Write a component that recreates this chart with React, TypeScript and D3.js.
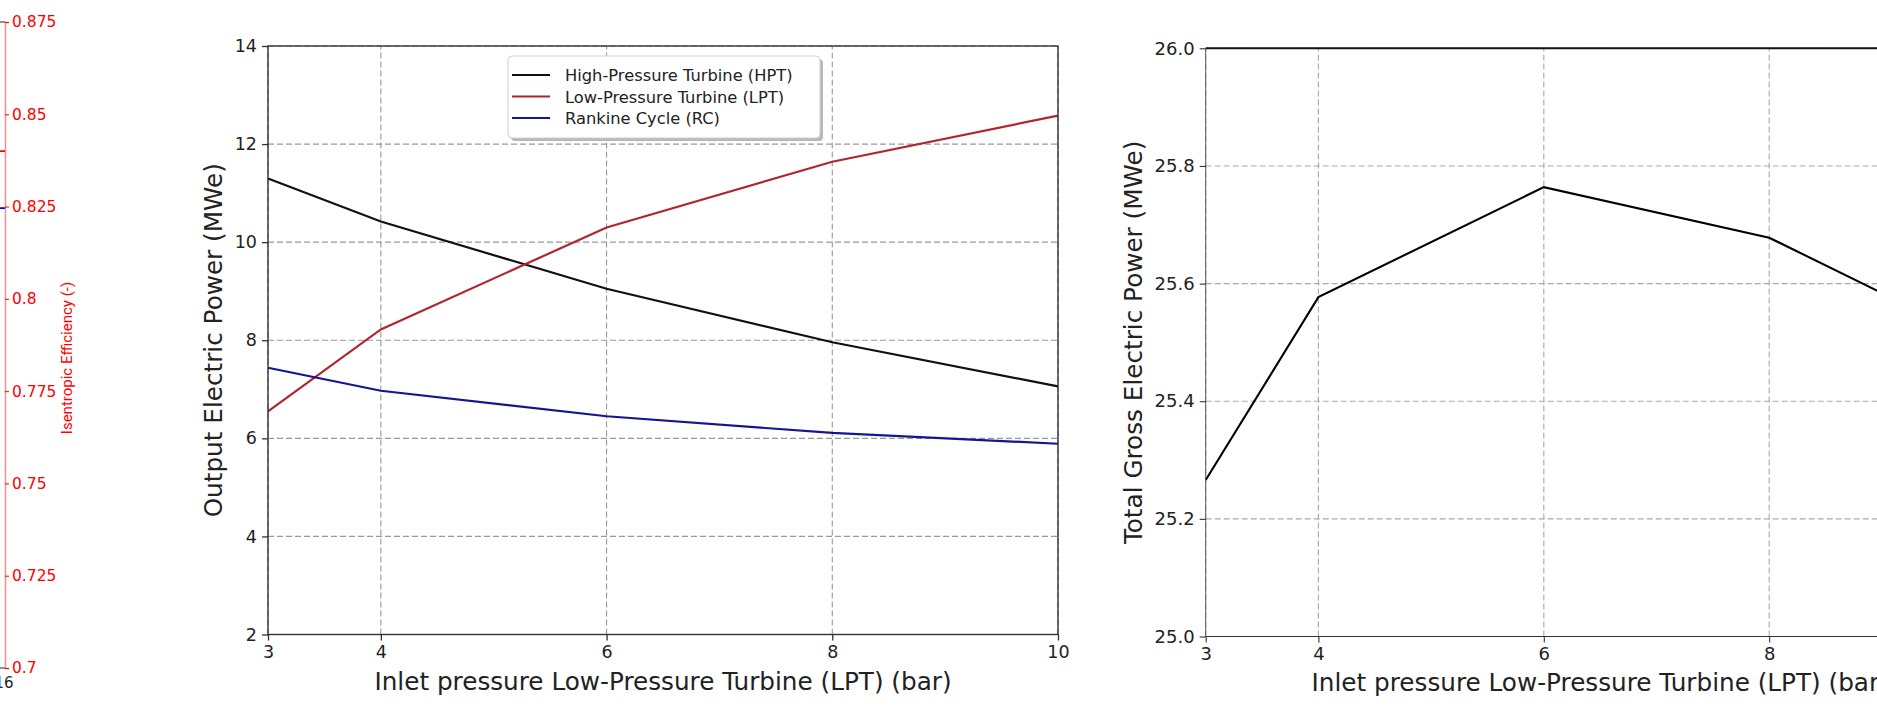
import { useEffect, useRef } from 'react';
import * as d3 from 'd3';

// inlet pressure of the LPT (bar)
const pressure = [3, 4, 6, 8, 10];
const hpt = [11.3, 10.42, 9.05, 7.96, 7.06];
const lpt = [6.55, 8.22, 10.3, 11.64, 12.58];
const rc = [7.44, 6.97, 6.45, 6.11, 5.89];
const totalGross = [25.266, 25.577, 25.764, 25.678, 25.49];

const xTicks = [3, 4, 6, 8, 10];
const midYTicks = [2, 4, 6, 8, 10, 12, 14];
const rightYTicks = [25.0, 25.2, 25.4, 25.6, 25.8, 26.0];

// left panel (only its twin axis is visible)
const effTicks = [0.7, 0.725, 0.75, 0.775, 0.8, 0.825, 0.85, 0.875];
const leftEndX = [15, 16];
const leftRed = [0.84, 0.84];
const leftBlue = [0.8246, 0.8246];

const series = [
  { name: 'High-Pressure Turbine (HPT)', values: hpt, color: '#111111' },
  { name: 'Low-Pressure Turbine (LPT)', values: lpt, color: '#b0262c' },
  { name: 'Rankine Cycle (RC)', values: rc, color: '#15158f' },
];

const FONT = 'DejaVu Sans, sans-serif';

function App() {
  const ref = useRef<SVGSVGElement>(null);

  useEffect(() => {
    const svg = d3.select(ref.current);
    svg.selectAll('*').remove();

    // ---------- left strip ----------
    const effY = d3.scaleLinear().domain([0.7, 0.875]).range([668, 22]);
    const leftX = d3.scaleLinear().domain([15, 16]).range([-120, 5]);
    const strip = svg.append('g');
    const effLine = d3
      .line<number>()
      .x((d, i) => leftX(leftEndX[i]))
      .y((d) => effY(d));
    strip.append('path').attr('d', effLine(leftRed)).attr('stroke', 'red').attr('stroke-width', 1.8).attr('fill', 'none');
    strip.append('path').attr('d', effLine(leftBlue)).attr('stroke', 'blue').attr('stroke-width', 1.8).attr('fill', 'none');
    strip.append('line').attr('x1', -10).attr('x2', 5).attr('y1', 22).attr('y2', 22).attr('stroke', '#444').attr('stroke-width', 1.2);
    strip.append('line').attr('x1', -10).attr('x2', 5).attr('y1', 668).attr('y2', 668).attr('stroke', '#444').attr('stroke-width', 1.2);

    const effAxis = strip
      .append('g')
      .attr('transform', 'translate(5,0)')
      .call(d3.axisRight(effY).tickValues(effTicks).tickSize(4).tickPadding(3).tickFormat((d) => String(+(+d).toFixed(3))));
    effAxis.select('.domain').attr('stroke', 'rgba(255,0,0,0.45)').attr('stroke-width', 1.5);
    effAxis.selectAll('.tick line').attr('stroke', 'red');
    effAxis.selectAll('.tick text').attr('fill', 'red').attr('font-size', 15.5).attr('font-family', FONT);
    strip
      .append('text')
      .attr('transform', 'translate(72,358) rotate(-90)')
      .attr('text-anchor', 'middle')
      .attr('font-size', 15)
      .attr('font-family', 'Roboto, sans-serif')
      .attr('fill', 'red')
      .text('Isentropic Efficiency (-)');
    strip
      .append('text')
      .attr('x', 4)
      .attr('y', 688)
      .attr('text-anchor', 'middle')
      .attr('font-size', 15)
      .attr('font-family', FONT)
      .attr('fill', '#222')
      .text('16');

    // ---------- middle chart ----------
    const x = d3.scaleLinear().domain([3, 10]).range([268, 1058]);
    const y = d3.scaleLinear().domain([2, 14]).range([634.5, 46]);
    const mid = svg.append('g');

    mid.append('g')
      .selectAll('line')
      .data(xTicks)
      .enter()
      .append('line')
      .attr('x1', (d) => x(d))
      .attr('x2', (d) => x(d))
      .attr('y1', y(2))
      .attr('y2', y(14))
      .attr('stroke', '#999')
      .attr('stroke-width', 1.1)
      .attr('stroke-dasharray', '6,3');
    mid.append('g')
      .selectAll('line')
      .data(midYTicks)
      .enter()
      .append('line')
      .attr('x1', x(3))
      .attr('x2', x(10))
      .attr('y1', (d) => y(d))
      .attr('y2', (d) => y(d))
      .attr('stroke', '#999')
      .attr('stroke-width', 1.1)
      .attr('stroke-dasharray', '6,3');

    const line = d3
      .line<number>()
      .x((d, i) => x(pressure[i]))
      .y((d) => y(d));
    series.forEach((s) => {
      mid.append('path').attr('d', line(s.values)).attr('fill', 'none').attr('stroke', s.color).attr('stroke-width', 2.2);
    });

    mid.append('rect')
      .attr('x', x(3))
      .attr('y', y(14))
      .attr('width', x(10) - x(3))
      .attr('height', y(2) - y(14))
      .attr('fill', 'none')
      .attr('stroke', '#333')
      .attr('stroke-width', 1.4);

    const mxAxis = mid
      .append('g')
      .attr('transform', `translate(0,${y(2)})`)
      .call(d3.axisBottom(x).tickValues(xTicks).tickSize(6).tickPadding(5).tickFormat(d3.format('d')));
    const myAxis = mid
      .append('g')
      .attr('transform', `translate(${x(3)},0)`)
      .call(d3.axisLeft(y).tickValues(midYTicks).tickSize(6).tickPadding(5).tickFormat(d3.format('d')));
    [mxAxis, myAxis].forEach((a) => {
      a.select('.domain').remove();
      a.selectAll('.tick line').attr('stroke', '#333').attr('stroke-width', 1.3);
      a.selectAll('.tick text').attr('font-size', 17.5).attr('font-family', FONT).attr('fill', '#222');
    });

    mid.append('text')
      .attr('x', (x(3) + x(10)) / 2)
      .attr('y', 690)
      .attr('text-anchor', 'middle')
      .attr('font-size', 24.7)
      .attr('font-family', FONT)
      .attr('fill', '#222')
      .text('Inlet pressure Low-Pressure Turbine (LPT) (bar)');
    mid.append('text')
      .attr('transform', `translate(222,${(y(2) + y(14)) / 2}) rotate(-90)`)
      .attr('text-anchor', 'middle')
      .attr('font-size', 24.7)
      .attr('font-family', FONT)
      .attr('fill', '#222')
      .text('Output Electric Power (MWe)');

    // legend
    const lg = mid.append('g').attr('transform', 'translate(508,56)');
    lg.append('rect').attr('x', 3).attr('y', 3).attr('width', 312).attr('height', 82).attr('rx', 4).attr('fill', '#b8b8b8');
    lg.append('rect').attr('width', 312).attr('height', 82).attr('rx', 4).attr('fill', 'white').attr('stroke', '#d0d0d0');
    series.forEach((s, i) => {
      const ry = 19 + i * 21.5;
      lg.append('line').attr('x1', 4).attr('x2', 42).attr('y1', ry).attr('y2', ry).attr('stroke', s.color).attr('stroke-width', 2.2);
      lg.append('text')
        .attr('x', 57)
        .attr('y', ry + 6)
        .attr('font-size', 16.3)
        .attr('font-family', FONT)
        .attr('fill', '#222')
        .text(s.name);
    });

    // ---------- right chart ----------
    const xr = d3.scaleLinear().domain([3, 10]).range([1205.7, 1994.6]);
    const yr = d3.scaleLinear().domain([25, 26]).range([636.5, 48.3]);
    const right = svg.append('g');

    right.append('g')
      .selectAll('line')
      .data(xTicks)
      .enter()
      .append('line')
      .attr('x1', (d) => xr(d))
      .attr('x2', (d) => xr(d))
      .attr('y1', yr(25))
      .attr('y2', yr(26))
      .attr('stroke', '#aaa')
      .attr('stroke-width', 1.1)
      .attr('stroke-dasharray', '6,3');
    right.append('g')
      .selectAll('line')
      .data(rightYTicks)
      .enter()
      .append('line')
      .attr('x1', xr(3))
      .attr('x2', xr(10))
      .attr('y1', (d) => yr(d))
      .attr('y2', (d) => yr(d))
      .attr('stroke', '#aaa')
      .attr('stroke-width', 1.1)
      .attr('stroke-dasharray', '6,3');

    const lineR = d3
      .line<number>()
      .x((d, i) => xr(pressure[i]))
      .y((d) => yr(d));
    right.append('path').attr('d', lineR(totalGross)).attr('fill', 'none').attr('stroke', '#000').attr('stroke-width', 2.1);

    right.append('line').attr('x1', xr(3)).attr('x2', xr(10)).attr('y1', yr(26)).attr('y2', yr(26)).attr('stroke', '#111').attr('stroke-width', 2);
    right.append('line').attr('x1', xr(3)).attr('x2', xr(10)).attr('y1', yr(25)).attr('y2', yr(25)).attr('stroke', '#333').attr('stroke-width', 1.2);
    right.append('line').attr('x1', xr(3)).attr('x2', xr(3)).attr('y1', yr(25)).attr('y2', yr(26)).attr('stroke', '#555').attr('stroke-width', 1);

    const rxAxis = right
      .append('g')
      .attr('transform', `translate(0,${yr(25)})`)
      .call(d3.axisBottom(xr).tickValues(xTicks).tickSize(6).tickPadding(5).tickFormat(d3.format('d')));
    const ryAxis = right
      .append('g')
      .attr('transform', `translate(${xr(3)},0)`)
      .call(d3.axisLeft(yr).tickValues(rightYTicks).tickSize(6).tickPadding(5).tickFormat(d3.format('.1f')));
    [rxAxis, ryAxis].forEach((a) => {
      a.select('.domain').remove();
      a.selectAll('.tick line').attr('stroke', '#333').attr('stroke-width', 1.1);
      a.selectAll('.tick text').attr('font-size', 18).attr('font-family', FONT).attr('fill', '#222');
    });

    right.append('text')
      .attr('x', (xr(3) + xr(10)) / 2)
      .attr('y', 691)
      .attr('text-anchor', 'middle')
      .attr('font-size', 24.7)
      .attr('font-family', FONT)
      .attr('fill', '#222')
      .text('Inlet pressure Low-Pressure Turbine (LPT) (bar)');
    right.append('text')
      .attr('transform', `translate(1142,${(yr(25) + yr(26)) / 2}) rotate(-90)`)
      .attr('text-anchor', 'middle')
      .attr('font-size', 24.7)
      .attr('font-family', FONT)
      .attr('fill', '#222')
      .text('Total Gross Electric Power (MWe)');
  }, []);

  return (
    <div style={{ position: 'fixed', left: 0, top: 0, background: 'white' }}>
      <svg ref={ref} width={1877} height={713} style={{ display: 'block' }} />
    </div>
  );
}

export default App;
